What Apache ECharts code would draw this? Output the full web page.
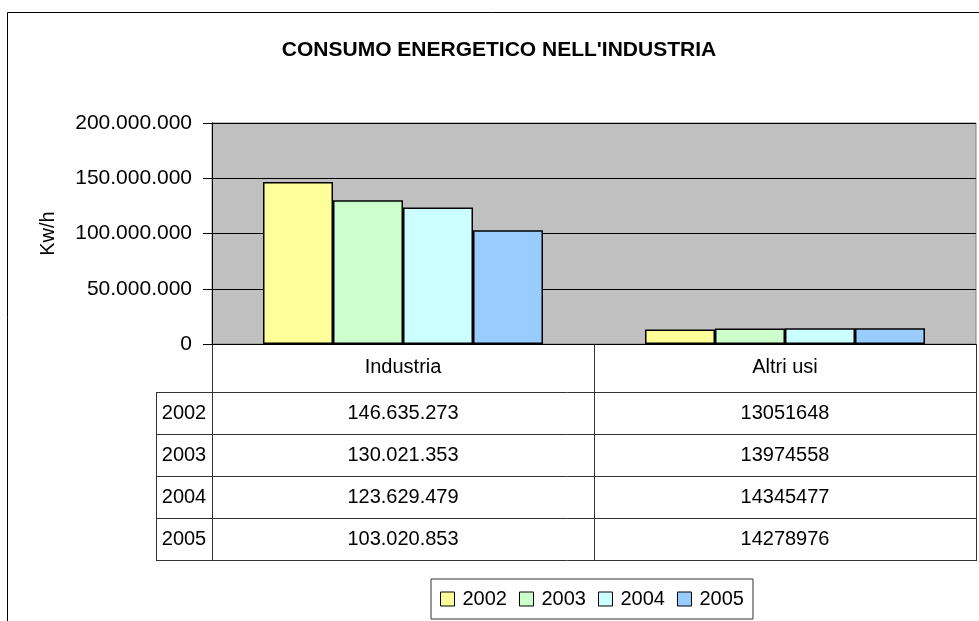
<!DOCTYPE html>
<html>
<head>
<meta charset="utf-8">
<script src="https://cdn.jsdelivr.net/npm/echarts@6/dist/echarts.min.js"></script>
<style>
  html, body { margin: 0; padding: 0; background: #fff; }
  #chart { width: 979px; height: 621px; }
</style>
</head>
<body>
<div id="chart"></div>
<script>
// dati
const categories = ['Industria', 'Altri usi'];
const years = ['2002', '2003', '2004', '2005'];
const industria = [146635273, 130021353, 123629479, 103020853];
const altriUsi = [13051648, 13974558, 14345477, 14278976];
const yTicks = [0, 50000000, 100000000, 150000000, 200000000];
const colors = ['#FFFF99', '#CCFFCC', '#CCFFFF', '#99CCFF'];

const FONT = "'Liberation Sans', Arial, sans-serif";

// separatore migliaia all'italiana
function dots(v) {
  return String(v).replace(/\B(?=(\d{3})+(?!\d))/g, '.');
}

const chart = echarts.init(document.getElementById('chart'));

const option = {
  animation: false,
  color: colors,
  textStyle: { fontFamily: FONT },
  title: {
    text: "CONSUMO ENERGETICO NELL'INDUSTRIA",
    left: 494,
    textAlign: 'center',
    top: 35,
    textStyle: { fontFamily: FONT, fontSize: 21, fontWeight: 'bold', color: '#000' }
  },
  legend: {
    data: years,
    left: 431,
    top: 579,
    icon: 'rect',
    itemWidth: 14,
    itemHeight: 14,
    itemGap: 12,
    padding: [10, 9],
    borderColor: '#333',
    borderWidth: 1,
    itemStyle: { borderColor: '#000', borderWidth: 1 },
    textStyle: { fontFamily: FONT, fontSize: 20, color: '#000', padding: [0, 0, 0, 3] }
  },
  grid: {
    left: 212,
    top: 123,
    width: 764,
    height: 221,
    show: true,
    backgroundColor: '#C0C0C0',
    borderColor: '#808080',
    borderWidth: 1
  },
  xAxis: {
    type: 'category',
    data: categories,
    axisLine: { lineStyle: { color: '#000', width: 1 } },
    axisTick: { show: false },
    axisLabel: { margin: 13, fontFamily: FONT, fontSize: 20, color: '#000' }
  },
  yAxis: {
    type: 'value',
    min: yTicks[0],
    max: yTicks[yTicks.length - 1],
    interval: yTicks[1] - yTicks[0],
    name: 'Kw/h',
    nameLocation: 'middle',
    nameGap: 154,
    nameTextStyle: { fontFamily: FONT, fontSize: 20, color: '#000' },
    axisLine: { show: true, lineStyle: { color: '#000', width: 1 } },
    axisTick: { show: true, length: 9, lineStyle: { color: '#000' } },
    axisLabel: { margin: 20, fontFamily: FONT, fontSize: 21, color: '#000', formatter: v => dots(v) },
    splitLine: { lineStyle: { color: '#000', width: 1 } }
  },
  series: years.map((y, i) => ({
    name: y,
    type: 'bar',
    barWidth: 70,
    barGap: '0%',
    data: [industria[i], altriUsi[i]],
    itemStyle: { borderColor: '#000', borderWidth: 1.5 }
  }))
};

chart.setOption(option);

// tabella dati sotto il grafico
const tableTop = 344;
const headBottom = 392;
const rowH = 42;
const leftX = 156;
const axisX = 212;
const rightX = 976;
const lineStyle = { stroke: '#333', lineWidth: 1 };
const g = [];

// cornice esterna
g.push({ type: 'rect', shape: { x: 7.5, y: 12.5, width: 990, height: 700 }, style: { fill: 'none', stroke: '#000', lineWidth: 1 }, silent: true });

const tableBottom = headBottom + rowH * years.length;
const midX = (chart.convertToPixel({ xAxisIndex: 0 }, categories[0]) + chart.convertToPixel({ xAxisIndex: 0 }, categories[1])) / 2;

// verticali
[[axisX, tableTop], [midX, tableTop], [rightX, tableTop], [leftX, headBottom]].forEach(([x, y0]) => {
  g.push({ type: 'line', shape: { x1: Math.round(x) + 0.5, y1: y0, x2: Math.round(x) + 0.5, y2: tableBottom }, style: lineStyle, silent: true });
});
// orizzontali
for (let r = 0; r <= years.length; r++) {
  const y = headBottom + r * rowH + 0.5;
  g.push({ type: 'line', shape: { x1: leftX, y1: y, x2: rightX + 1, y2: y }, style: lineStyle, silent: true });
}

const cols = [
  { cat: categories[0], vals: industria, fmt: dots },
  { cat: categories[1], vals: altriUsi, fmt: v => String(v) }
];
years.forEach((yr, r) => {
  const cy = headBottom + r * rowH + rowH / 2;
  g.push({ type: 'text', x: (leftX + axisX) / 2, y: cy, style: { text: yr, font: '20px ' + FONT, fill: '#000', align: 'center', verticalAlign: 'middle' }, silent: true });
  cols.forEach(c => {
    const cx = chart.convertToPixel({ xAxisIndex: 0 }, c.cat);
    g.push({ type: 'text', x: cx, y: cy, style: { text: c.fmt(c.vals[r]), font: '20px ' + FONT, fill: '#000', align: 'center', verticalAlign: 'middle' }, silent: true });
  });
});

chart.setOption({ graphic: g });
</script>
</body>
</html>
